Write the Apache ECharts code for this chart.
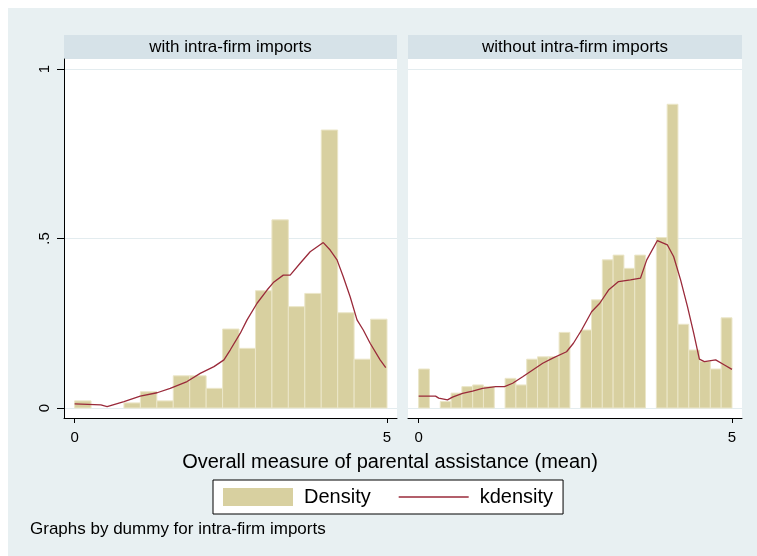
<!DOCTYPE html>
<html><head><meta charset="utf-8">
<script src="https://cdn.jsdelivr.net/npm/echarts@6/dist/echarts.min.js"></script>
<style>html,body{margin:0;padding:0;background:#fff}#c{width:757px;height:556px}</style>
</head><body><div id="c"></div>
<script>
// ---- data ----
const panelTitles = ['with intra-firm imports', 'without intra-firm imports'];
const xTicks = [0, 5];
const yTicks = [0, 0.5, 1];
const yTickLabels = ['0', '.5', '1'];
const histRange = [0, 5];
// histogram densities (equal-width bins over histRange)
const density1 = [0.021, 0, 0, 0.015, 0.048, 0.021, 0.095, 0.095, 0.058, 0.233, 0.176, 0.346, 0.555, 0.299, 0.338, 0.82, 0.281, 0.144, 0.262];
const density2 = [0.115, 0, 0.019, 0.044, 0.063, 0.068, 0.063, 0, 0.0875, 0.068, 0.144, 0.151, 0.151, 0.223, 0, 0.23, 0.319, 0.437, 0.451, 0.412, 0.451, 0, 0.503, 0.896, 0.247, 0.171, 0.137, 0.115, 0.266];
// kernel density curves
const kdens1X = [0, 0.42, 0.52, 0.79, 1.05, 1.32, 1.53, 1.8, 2.01, 2.23, 2.39, 2.49, 2.65, 2.76, 2.92, 3.08, 3.18, 3.34, 3.45, 3.61, 3.77, 3.98, 4.09, 4.2, 4.3, 4.41, 4.52, 4.62, 4.73, 4.89, 4.98];
const kdens1Y = [0.012, 0.009, 0.004, 0.019, 0.035, 0.045, 0.058, 0.078, 0.102, 0.122, 0.142, 0.171, 0.22, 0.26, 0.309, 0.348, 0.37, 0.392, 0.392, 0.427, 0.461, 0.488, 0.466, 0.437, 0.387, 0.328, 0.26, 0.23, 0.191, 0.142, 0.119];
const kdens2X = [0, 0.27, 0.32, 0.46, 0.54, 0.7, 0.86, 1.02, 1.23, 1.37, 1.5, 1.66, 1.82, 1.98, 2.14, 2.36, 2.47, 2.6, 2.76, 2.89, 3.03, 3.19, 3.38, 3.54, 3.64, 3.81, 3.97, 4.07, 4.18, 4.29, 4.39, 4.48, 4.56, 4.74, 4.88, 5.0];
const kdens2Y = [0.035, 0.035, 0.029, 0.024, 0.032, 0.043, 0.05, 0.058, 0.063, 0.063, 0.073, 0.092, 0.112, 0.132, 0.147, 0.166, 0.191, 0.23, 0.284, 0.309, 0.348, 0.373, 0.378, 0.383, 0.437, 0.494, 0.481, 0.446, 0.378, 0.299, 0.22, 0.144, 0.137, 0.142, 0.127, 0.114];
const xTitle = 'Overall measure of parental assistance (mean)';
const note = 'Graphs by dummy for intra-firm imports';
const legendNames = ['Density', 'kdensity'];

// ---- styling ----
const FONT = '"Liberation Sans", Arial, sans-serif';
const BG = '#e8f0f2';
const STRIP = '#d6e2e8';
const BAR = '#d8d0a0';
const BAR_EDGE = '#ebe6c8';
const LINE = '#9a2a3a';
const GRIDLINE = '#e3ecef';

const chart = echarts.init(document.getElementById('c'), null, {renderer: 'canvas'});

function histSeries(heights, idx) {
  const w = (histRange[1] - histRange[0]) / heights.length;
  const data = heights.map((h, i) => [histRange[0] + i * w, histRange[0] + (i + 1) * w, h]);
  return {
    type: 'custom', name: legendNames[0], xAxisIndex: idx, yAxisIndex: idx,
    data, encode: {x: [0, 1], y: 2},
    itemStyle: {color: BAR},
    renderItem(params, api) {
      const h = api.value(2);
      if (!(h > 0)) return null;
      const p0 = api.coord([api.value(0), h]);
      const p1 = api.coord([api.value(1), 0]);
      return {type: 'rect', shape: {x: p0[0], y: p0[1], width: p1[0] - p0[0], height: p1[1] - p0[1]},
        style: {fill: BAR, stroke: BAR_EDGE, lineWidth: 1}};
    },
    z: 2
  };
}
function lineSeries(xs, ys, idx) {
  return {type: 'line', name: legendNames[1], xAxisIndex: idx, yAxisIndex: idx,
    data: xs.map((x, i) => [x, ys[i]]), symbol: 'none', smooth: false,
    lineStyle: {color: LINE, width: 1.3}, itemStyle: {color: LINE}, z: 3, animation: false};
}
const grids = [
  {left: 64, top: 59, width: 333, height: 359},
  {left: 408, top: 59, width: 334, height: 359}
].map(g => Object.assign(g, {show: true, backgroundColor: '#fff', borderWidth: 0, containLabel: false, outerBoundsMode: 'none'}));

function xAxis(idx) {
  return {type: 'value', gridIndex: idx, min: -0.17, max: 5.16,
    axisLine: {show: true, onZero: false, lineStyle: {color: '#000', width: 1}},
    axisTick: {show: true, customValues: xTicks, length: 5, lineStyle: {color: '#000'}},
    axisLabel: {show: true, customValues: xTicks, margin: 12, fontSize: 15, color: '#000', fontFamily: FONT,
      formatter: v => String(v)},
    splitLine: {show: false}};
}
function yAxis(idx) {
  return {type: 'value', gridIndex: idx, min: -0.0295, max: 1.0295,
    axisLine: {show: idx === 0, onZero: false, lineStyle: {color: '#000', width: 1}},
    axisTick: {show: idx === 0, customValues: yTicks, length: 7, lineStyle: {color: '#000'}},
    axisLabel: {show: idx === 0, customValues: yTicks, rotate: 90, margin: 12, fontSize: 15, color: '#000', fontFamily: FONT,
      formatter: v => yTickLabels[yTicks.indexOf(v)] ?? String(v)},
    splitLine: {show: true, lineStyle: {color: GRIDLINE, width: 1}}};
}

const stripGraphics = [];
grids.forEach((g, i) => {
  stripGraphics.push({type: 'rect', z: -50, shape: {x: g.left, y: 35, width: g.width, height: 24}, style: {fill: STRIP}});
  stripGraphics.push({type: 'text', z: 10, x: g.left + g.width / 2, y: 47,
    style: {text: panelTitles[i], font: '17px ' + FONT, fill: '#000', textAlign: 'center', textVerticalAlign: 'middle'}});
});

chart.setOption({
  animation: false,
  backgroundColor: '#fff',
  grid: grids,
  xAxis: [xAxis(0), xAxis(1)],
  yAxis: [yAxis(0), yAxis(1)],
  legend: {
    left: 213, top: 480, orient: 'horizontal',
    data: [{name: legendNames[0], icon: 'rect'}, {name: legendNames[1], icon: 'path://M0,0H70V1.4H0Z'}],
    itemWidth: 70, itemHeight: 18, itemGap: 28,
    padding: [7, 10, 7, 10],
    backgroundColor: '#fff', borderColor: '#000', borderWidth: 1, borderRadius: 0,
    textStyle: {fontSize: 20, color: '#000', fontFamily: FONT, padding: [0, 0, 0, 6]}
  },
  graphic: [
    {type: 'rect', z: -100, shape: {x: 8, y: 8, width: 757, height: 556}, style: {fill: BG}},
    ...stripGraphics,
    {type: 'text', z: 10, x: 390, y: 462, style: {text: xTitle, font: '20px ' + FONT, fill: '#000', textAlign: 'center', textVerticalAlign: 'middle'}},
    {type: 'text', z: 10, x: 30, y: 529, style: {text: note, font: '17px ' + FONT, fill: '#000', textAlign: 'left', textVerticalAlign: 'middle'}}
  ],
  series: [histSeries(density1, 0), histSeries(density2, 1), lineSeries(kdens1X, kdens1Y, 0), lineSeries(kdens2X, kdens2Y, 1)]
});
</script></body></html>
